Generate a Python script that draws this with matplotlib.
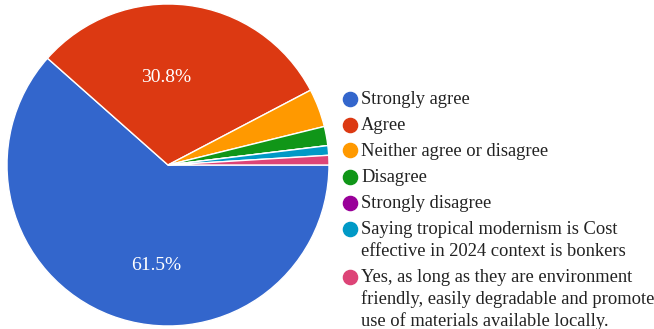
import matplotlib
matplotlib.use("Agg")
import matplotlib.pyplot as plt
from matplotlib.lines import Line2D

categories = [
    "Strongly agree",
    "Agree",
    "Neither agree or disagree",
    "Disagree",
    "Strongly disagree",
    "Saying tropical modernism is Cost\neffective in 2024 context is bonkers",
    "Yes, as long as they are environment\nfriendly, easily degradable and promote\nuse of materials available locally.",
]
counts = [64, 32, 4, 2, 0, 1, 1]
colors = ["#3366cc", "#dc3912", "#ff9900", "#109618", "#990099", "#0099c6", "#dd4477"]

plt.rcParams['font.family'] = ['Liberation Serif', 'DejaVu Serif']

W, H = 654, 329
fig = plt.figure(figsize=(W / 100, H / 100), dpi=100)
cx, cy, r = 168, 164, 161
ax = fig.add_axes([(cx - r) / W, (cy - r) / H, 2 * r / W, 2 * r / H])


def fmt(p):
    return f"{p:.1f}%" if p > 10 else ""


wedges, texts, autotexts = ax.pie(
    counts, colors=colors, startangle=0, counterclock=False, radius=1,
    autopct=fmt, pctdistance=0.6,
    wedgeprops=dict(edgecolor="white", linewidth=1.0),
    textprops=dict(color="white", fontsize=14),
)
# Google-chart-like label placement
autotexts[0].set_position((-0.075, -0.625))
autotexts[1].set_position((-0.01, 0.545))
ax.set_xlim(-1, 1)
ax.set_ylim(-1, 1)
ax.set_aspect("equal")
ax.axis("off")

# Legend drawn manually (marker aligned with first line of each entry)
fs = 13.3
y = 98.5          # pixel centre of first line (from top)
item_gap = 26
line_gap = 22
mx, tx = 350, 361
for lab, c in zip(categories, colors):
    fig.add_artist(Line2D([mx / W], [1 - y / H], marker="o", linestyle="",
                          markersize=10.2, markerfacecolor=c, markeredgecolor=c,
                          transform=fig.transFigure))
    for i, line in enumerate(lab.split("\n")):
        yy = y + i * line_gap
        fig.text(tx / W, 1 - (yy + 5) / H, line, fontsize=fs, color="#222222",
                 ha="left", va="baseline")
    y += item_gap + line_gap * (lab.count("\n"))

fig.savefig("out.png", dpi=100)
